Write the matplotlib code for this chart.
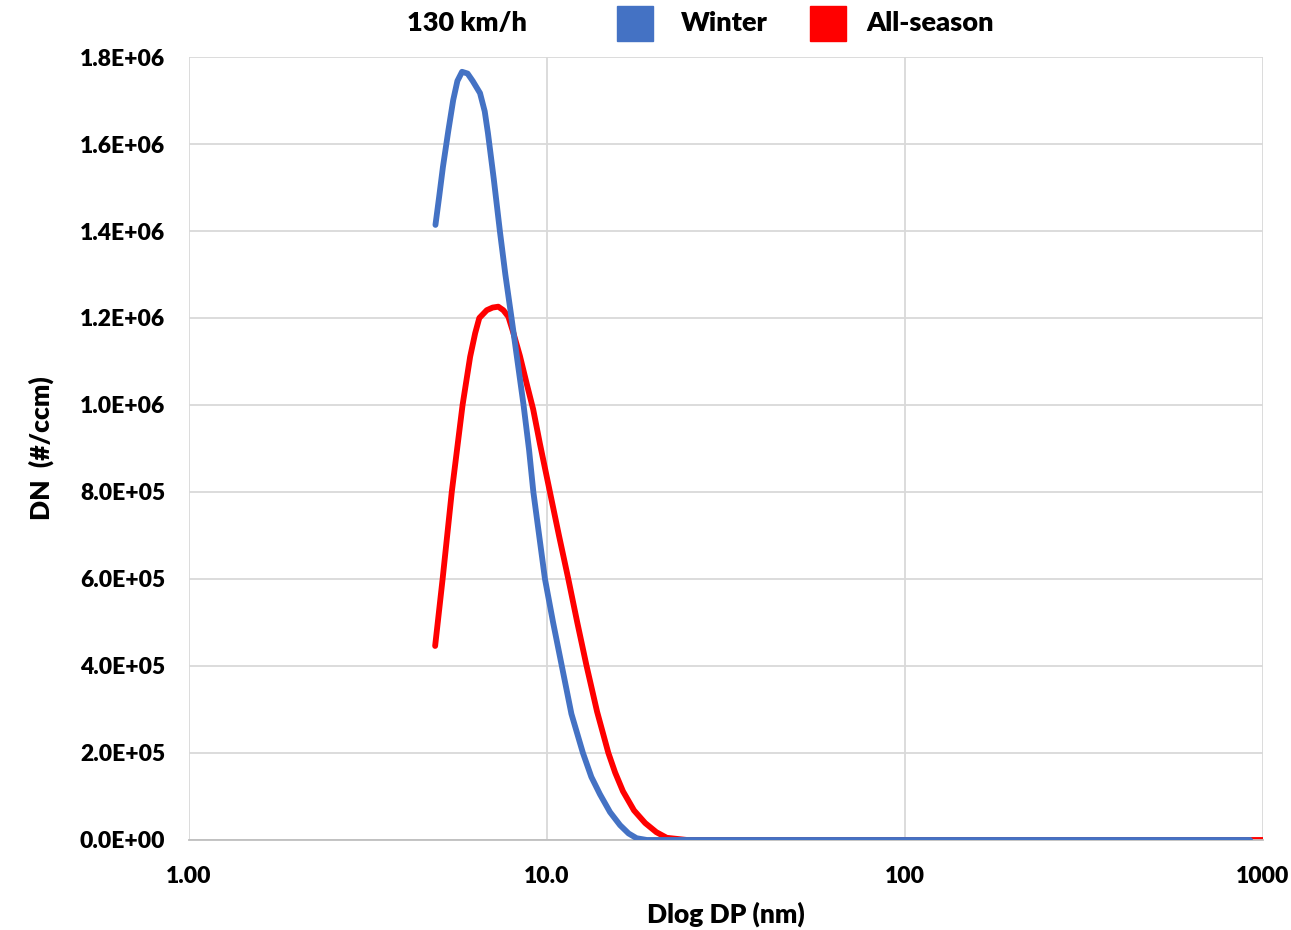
import numpy as np
import matplotlib
matplotlib.use("Agg")
from matplotlib import pyplot as plt
from matplotlib.patches import Rectangle
from matplotlib.ticker import FixedLocator, FixedFormatter, NullLocator

plt.rcParams['font.family'] = ['Lato', 'DejaVu Sans']
plt.rcParams['font.weight'] = 'heavy'

# particle size (nm) and number concentration (#/ccm)
winter_dp = [4.88, 5.0, 5.12, 5.3, 5.47, 5.62, 5.79, 6.0, 6.2, 6.5, 6.7, 6.84,
             7.1, 7.39, 7.65, 7.96, 8.6, 8.91, 9.16, 9.87, 10.4, 11.0, 11.7,
             12.6, 13.3, 14.06, 15.0, 16.0, 16.9, 17.8, 19.0, 22.0, 30.0, 50.0,
             100.0, 200.0, 500.0, 920.0]
winter_dn = [1.414e6, 1.480e6, 1.547e6, 1.630e6, 1.701e6, 1.745e6, 1.766e6,
             1.762e6, 1.745e6, 1.717e6, 1.675e6, 1.625e6, 1.520e6, 1.398e6,
             1.300e6, 1.200e6, 1.000e6, 0.897e6, 0.800e6, 0.600e6, 0.500e6,
             0.400e6, 0.290e6, 0.200e6, 0.145e6, 0.105e6, 0.064e6, 0.034e6,
             0.015e6, 0.004e6, 0.0, 0.0, 0.0, 0.0, 0.0, 0.0, 0.0, 0.0]

allseason_dp = [4.87, 5.11, 5.42, 5.81, 6.1, 6.3, 6.47, 6.79, 7.05, 7.31, 7.55,
                7.8, 8.04, 8.4, 8.77, 9.15, 9.56, 10.19, 10.8, 11.47, 12.15, 12.9,
                13.8, 14.84, 15.5, 16.3, 17.5, 18.8, 20.2, 21.6, 24.6, 30.0, 50.0,
                100.0, 200.0, 500.0, 1000.0]
allseason_dn = [0.446e6, 0.600e6, 0.800e6, 1.000e6, 1.111e6, 1.165e6, 1.200e6,
                1.218e6, 1.224e6, 1.226e6, 1.218e6, 1.203e6, 1.168e6, 1.113e6,
                1.050e6, 0.990e6, 0.910e6, 0.800e6, 0.700e6, 0.600e6, 0.500e6,
                0.400e6, 0.295e6, 0.200e6, 0.155e6, 0.112e6, 0.068e6, 0.039e6,
                0.018e6, 0.005e6, 0.0, 0.0, 0.0, 0.0, 0.0, 0.0, 0.0]

x_ticks = [1, 10, 100, 1000]
x_ticklabels = ['1.00', '10.0', '100', '1000']
y_ticks = [0, 2e5, 4e5, 6e5, 8e5, 1e6, 1.2e6, 1.4e6, 1.6e6, 1.8e6]
y_ticklabels = ['0.0E+00', '2.0E+05', '4.0E+05', '6.0E+05', '8.0E+05',
                '1.0E+06', '1.2E+06', '1.4E+06', '1.6E+06', '1.8E+06']

blue = '#4472c4'
red = '#ff0000'

fig = plt.figure(figsize=(12.91, 9.30), dpi=100)
ax = fig.add_axes([0.1464, 0.0968, 0.8319, 0.8419])

ax.plot(winter_dp, winter_dn, color=blue, lw=4.2, solid_capstyle='round',
        solid_joinstyle='round', zorder=3)
ax.plot(allseason_dp, allseason_dn, color=red, lw=4.2, solid_capstyle='round',
        solid_joinstyle='round', zorder=2)

ax.set_xscale('log')
ax.set_xlim(1, 1000)
ax.set_ylim(0, 1.8e6)
ax.xaxis.set_major_locator(FixedLocator(x_ticks))
ax.xaxis.set_major_formatter(FixedFormatter(x_ticklabels))
ax.xaxis.set_minor_locator(NullLocator())
ax.yaxis.set_major_locator(FixedLocator(y_ticks))
ax.yaxis.set_major_formatter(FixedFormatter(y_ticklabels))

ax.grid(True, color='#d9d9d9', lw=1.3)
ax.set_axisbelow(True)
for s in ['top', 'right', 'left']:
    ax.spines[s].set_visible(False)
ax.spines['bottom'].set_color('#bfbfbf')
ax.spines['bottom'].set_linewidth(1.3)
ax.tick_params(length=0, labelsize=16.5, pad=19, axis='x')
ax.tick_params(length=0, labelsize=16.5, pad=17, axis='y')

ax.set_xlabel('Dlog DP (nm)', fontsize=19, fontweight='heavy', labelpad=10)
ax.set_ylabel('DN  (#/ccm)', fontsize=19, fontweight='heavy', labelpad=19)

# legend row on top
fig.text(467 / 1291, 1 - 23 / 930, '130 km/h', fontsize=19.5, fontweight='heavy',
         ha='center', va='center')
fig.patches.append(Rectangle((617 / 1291, 1 - 41 / 930), 36 / 1291, 35 / 930,
                             transform=fig.transFigure, color=blue))
fig.text(681 / 1291, 1 - 23 / 930, 'Winter', fontsize=19.5, fontweight='heavy',
         ha='left', va='center')
fig.patches.append(Rectangle((810 / 1291, 1 - 41 / 930), 36 / 1291, 35 / 930,
                             transform=fig.transFigure, color=red))
fig.text(866 / 1291, 1 - 23 / 930, 'All-season', fontsize=19.5, fontweight='heavy',
         ha='left', va='center')

fig.savefig('out.png', dpi=100)
